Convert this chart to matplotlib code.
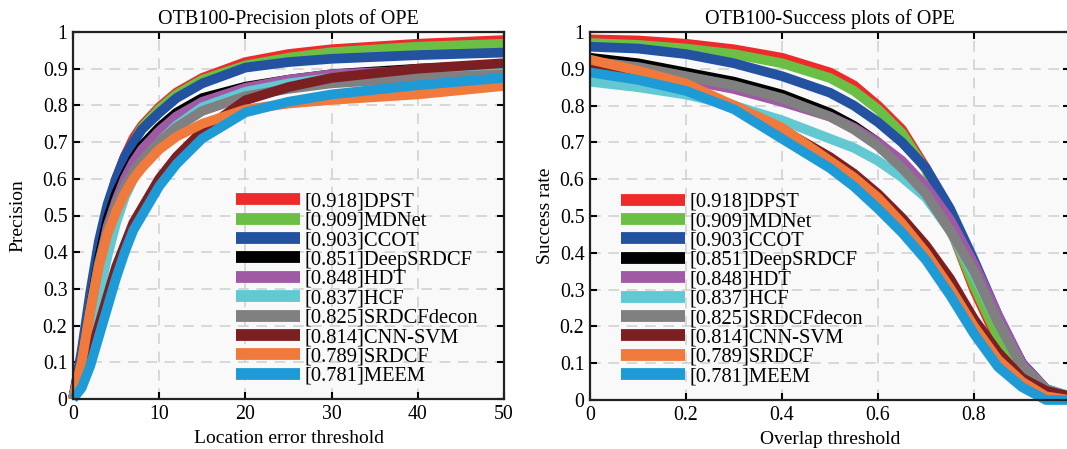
import matplotlib
matplotlib.use("Agg")
import matplotlib.pyplot as plt

plt.rcParams["font.family"] = ["Liberation Serif", "DejaVu Serif"]

trackers = ["DPST", "MDNet", "CCOT", "DeepSRDCF", "HDT", "HCF",
            "SRDCFdecon", "CNN-SVM", "SRDCF", "MEEM"]
scores = ["0.918", "0.909", "0.903", "0.851", "0.848", "0.837",
          "0.825", "0.814", "0.789", "0.781"]
colors = ["#ee2a2a", "#6cbf45", "#2352a0", "#000000", "#a05aa5", "#62c8d2",
          "#808080", "#7b1f23", "#f07a3c", "#1e9bd7"]

# precision plot (location error threshold)
prec_x = [0, 1, 2, 3, 4, 5, 6, 7, 8, 10, 12, 15, 20, 25, 30, 40, 50]
prec_dpst = [0, 0.12, 0.27, 0.41, 0.52, 0.60, 0.66, 0.71, 0.745, 0.795, 0.835, 0.875, 0.918, 0.940, 0.953, 0.968, 0.978]
prec_mdnet = [0, 0.11, 0.26, 0.40, 0.51, 0.59, 0.65, 0.70, 0.740, 0.790, 0.830, 0.870, 0.909, 0.930, 0.945, 0.960, 0.968]
prec_ccot = [0, 0.13, 0.29, 0.43, 0.53, 0.60, 0.66, 0.70, 0.735, 0.780, 0.820, 0.860, 0.903, 0.918, 0.927, 0.937, 0.944]
prec_deepsrdcf = [0, 0.10, 0.24, 0.38, 0.49, 0.56, 0.61, 0.655, 0.690, 0.740, 0.780, 0.820, 0.851, 0.870, 0.885, 0.900, 0.910]
prec_hdt = [0, 0.09, 0.22, 0.36, 0.47, 0.54, 0.60, 0.645, 0.680, 0.730, 0.770, 0.810, 0.848, 0.870, 0.885, 0.895, 0.900]
prec_hcf = [0, 0.06, 0.16, 0.28, 0.39, 0.48, 0.55, 0.60, 0.645, 0.700, 0.745, 0.795, 0.837, 0.860, 0.875, 0.890, 0.897]
prec_srdcfdecon = [0, 0.10, 0.24, 0.37, 0.46, 0.53, 0.58, 0.62, 0.650, 0.700, 0.740, 0.785, 0.825, 0.845, 0.860, 0.875, 0.885]
prec_cnnsvm = [0, 0.05, 0.12, 0.20, 0.28, 0.36, 0.42, 0.48, 0.520, 0.600, 0.660, 0.730, 0.814, 0.850, 0.875, 0.900, 0.915]
prec_srdcf = [0, 0.10, 0.24, 0.36, 0.45, 0.51, 0.56, 0.60, 0.630, 0.680, 0.715, 0.750, 0.789, 0.805, 0.815, 0.830, 0.853]
prec_meem = [0, 0.03, 0.09, 0.17, 0.25, 0.33, 0.40, 0.46, 0.500, 0.580, 0.640, 0.710, 0.781, 0.810, 0.830, 0.855, 0.875]

# success plot (overlap threshold)
succ_x = [0, 0.1, 0.2, 0.3, 0.4, 0.5, 0.55, 0.6, 0.65, 0.7, 0.75, 0.8, 0.85, 0.9, 0.95, 1.0]
succ_dpst = [0.98, 0.977, 0.968, 0.953, 0.930, 0.890, 0.855, 0.800, 0.735, 0.630, 0.470, 0.300, 0.160, 0.070, 0.020, 0.0]
succ_mdnet = [0.97, 0.965, 0.955, 0.940, 0.915, 0.875, 0.840, 0.790, 0.725, 0.625, 0.470, 0.310, 0.170, 0.075, 0.025, 0.0]
succ_ccot = [0.96, 0.955, 0.940, 0.915, 0.880, 0.835, 0.800, 0.755, 0.700, 0.630, 0.520, 0.380, 0.230, 0.100, 0.030, 0.0]
succ_deepsrdcf = [0.93, 0.915, 0.890, 0.865, 0.830, 0.780, 0.745, 0.700, 0.640, 0.570, 0.470, 0.360, 0.220, 0.100, 0.030, 0.005]
succ_hdt = [0.90, 0.890, 0.870, 0.845, 0.810, 0.770, 0.740, 0.700, 0.650, 0.580, 0.490, 0.370, 0.230, 0.100, 0.030, 0.010]
succ_hcf = [0.865, 0.850, 0.830, 0.800, 0.760, 0.710, 0.685, 0.650, 0.605, 0.550, 0.460, 0.340, 0.210, 0.090, 0.030, 0.010]
succ_srdcfdecon = [0.92, 0.905, 0.880, 0.855, 0.820, 0.770, 0.735, 0.690, 0.630, 0.560, 0.460, 0.350, 0.210, 0.090, 0.030, 0.005]
succ_cnnsvm = [0.905, 0.880, 0.850, 0.800, 0.735, 0.660, 0.615, 0.560, 0.495, 0.420, 0.330, 0.220, 0.130, 0.060, 0.025, 0.010]
succ_srdcf = [0.925, 0.895, 0.860, 0.800, 0.740, 0.650, 0.605, 0.550, 0.480, 0.400, 0.305, 0.200, 0.110, 0.050, 0.010, 0.0]
succ_meem = [0.89, 0.870, 0.840, 0.790, 0.710, 0.630, 0.580, 0.520, 0.455, 0.380, 0.285, 0.180, 0.090, 0.035, 0.0, 0.0]

prec_curves = [prec_dpst, prec_mdnet, prec_ccot, prec_deepsrdcf, prec_hdt,
               prec_hcf, prec_srdcfdecon, prec_cnnsvm, prec_srdcf, prec_meem]
succ_curves = [succ_dpst, succ_mdnet, succ_ccot, succ_deepsrdcf, succ_hdt,
               succ_hcf, succ_srdcfdecon, succ_cnnsvm, succ_srdcf, succ_meem]

y_ticks = [0, 0.1, 0.2, 0.3, 0.4, 0.5, 0.6, 0.7, 0.8, 0.9, 1.0]
y_ticklabels = ["0", "0.1", "0.2", "0.3", "0.4", "0.5", "0.6", "0.7", "0.8", "0.9", "1"]
prec_xticks = [0, 10, 20, 30, 40, 50]
succ_xticks = [0, 0.2, 0.4, 0.6, 0.8, 1.0]
succ_xticklabels = ["0", "0.2", "0.4", "0.6", "0.8", "1"]

fig = plt.figure(figsize=(10.67, 4.49), dpi=100)
ax1 = fig.add_axes([73 / 1067, 1 - 399 / 449, 431 / 1067, 367 / 449])
ax2 = fig.add_axes([590 / 1067, 1 - 400 / 449, 480 / 1067, 368 / 449])


def style_axes(ax, title, xlabel, ylabel, ylab_x, xlab_y):
    ax.set_facecolor("#f9f9f9")
    ax.grid(True, color="#cfcfcf", linestyle=(0, (7, 5)), linewidth=1.1)
    ax.set_axisbelow(True)
    for s in ax.spines.values():
        s.set_linewidth(1.6)
        s.set_color("#222222")
        s.set_zorder(30)
    ax.tick_params(direction="in", top=True, right=True, length=5, width=1.5,
                   labelsize=14.3, pad=4)
    ax.set_yticks(y_ticks)
    ax.set_yticklabels(y_ticklabels)
    ax.set_ylim(0, 1)
    ax.set_title(title, fontsize=14.5, pad=6)
    ax.set_xlabel(xlabel, fontsize=14)
    ax.set_ylabel(ylabel, fontsize=14)
    ax.yaxis.set_label_coords(ylab_x, 0.5)
    ax.xaxis.set_label_coords(0.5, xlab_y)


for i, (name, sc, col, ys) in enumerate(zip(trackers, scores, colors, prec_curves)):
    ax1.plot(prec_x, ys, color=col, lw=7, solid_capstyle="butt",
             label=f"[{sc}]{name}", zorder=2 + i, clip_on=False)
style_axes(ax1, "OTB100-Precision plots of OPE", "Location error threshold", "Precision",
           -0.107, -0.085)
ax1.set_xlim(0, 50)
ax1.set_xticks(prec_xticks)

for i, (name, sc, col, ys) in enumerate(zip(trackers, scores, colors, succ_curves)):
    ax2.plot(succ_x, ys, color=col, lw=7, solid_capstyle="butt",
             label=f"[{sc}]{name}", zorder=2 + i, clip_on=False)
style_axes(ax2, "OTB100-Success plots of OPE", "Overlap threshold", "Success rate",
           -0.075, -0.085)
ax2.set_xlim(0, 1)
ax2.set_xticks(succ_xticks)
ax2.set_xticklabels(succ_xticklabels)

for ax, x0 in [(ax1, (236 - 73) / 431), (ax2, (621 - 590) / 480)]:
    leg = ax.legend(loc="upper left", bbox_to_anchor=(x0, 1 - (192 - 32) / 367),
                    frameon=False, fontsize=14.8, handlelength=3.1,
                    handletextpad=0.25, labelspacing=0.0, borderpad=0,
                    borderaxespad=0)
    for h in leg.get_lines():
        h.set_linewidth(8.5)
    leg.set_zorder(40)

fig.savefig("out.png", dpi=100)
